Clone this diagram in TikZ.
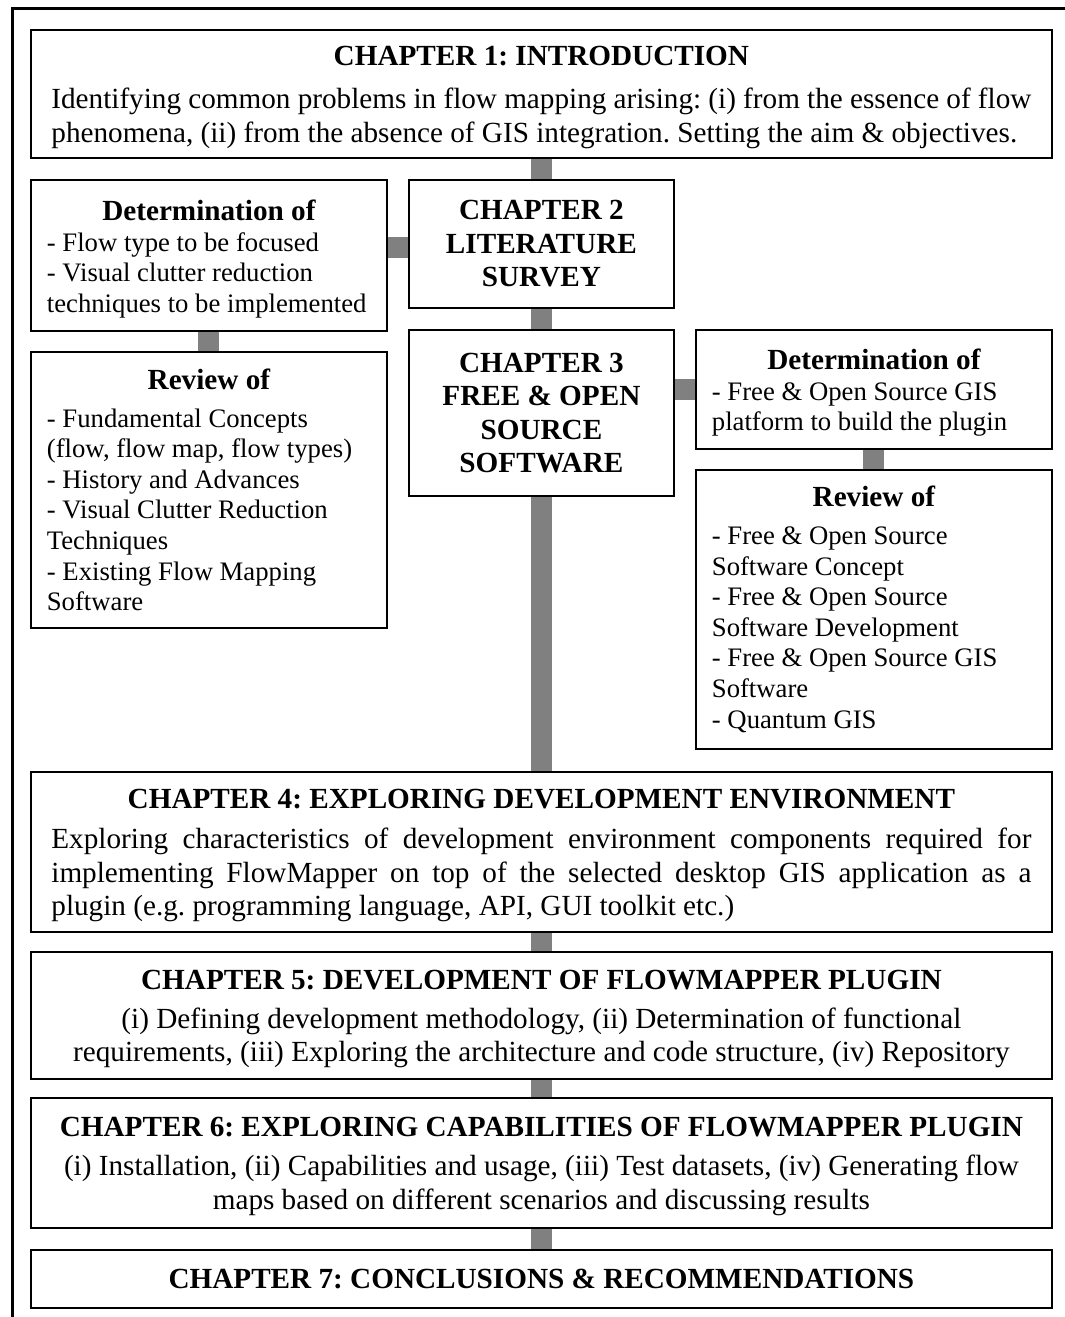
\documentclass[tikz,border=0pt]{standalone}
\usepackage{fontspec}
\setmainfont{Liberation Serif}
\usetikzlibrary{positioning,calc}
\definecolor{bargray}{RGB}{128,128,128}
\newcommand{\chapfont}{\fontsize{29.2}{33.4}\selectfont}
\newcommand{\listfont}{\fontsize{26.7}{30.6}\selectfont}
\newcommand{\sinktext}{\par\vspace{-7pt}\hrule height 0pt}
\frenchspacing
\hyphenpenalty=10000
\exhyphenpenalty=10000

\begin{document}
\begin{tikzpicture}[x=1pt,y=-1pt,
  box/.style={draw, line width=1.8pt, fill=white, inner sep=0pt, anchor=north west, font=\chapfont},
  wide/.style={box, minimum width=1021pt, text width=980pt},
  side/.style={box, minimum width=356pt, text width=324pt, align=flush left},
  mid/.style={box, minimum width=265pt, text width=240pt, align=flush center, font=\chapfont\bfseries},
  link/.style={draw=bargray, line width=21pt}]

\useasboundingbox (0,0) rectangle (1065,1317);

% outer frame
\draw[line width=3.3pt] (12.5,1317) -- (12.5,8.5) -- (1065,8.5);

\node[wide, minimum height=128pt, align=justify] (ch1) at (30,29)
  {{\centering\bfseries CHAPTER 1: INTRODUCTION\par}\vspace{10pt}%
   Identifying common problems in flow mapping arising: (i) from the essence of flow phenomena, (ii) from the absence of GIS integration. Setting the aim \& objectives.\sinktext};

\node[side, minimum height=151pt] (det1) at (30,179)
  {{\centering\bfseries Determination of\par}\listfont
   - Flow type to be focused\\ - Visual clutter reduction\\ techniques to be implemented\sinktext};
\node[mid, minimum height=128pt] (ch2) at (408,179) {CHAPTER 2\\ LITERATURE\\ SURVEY};

\node[side, minimum height=276pt] (rev1) at (30,351)
  {{\centering\bfseries Review of\par}\vspace{7pt}\listfont
   - Fundamental Concepts\\ (flow, flow map, flow types)\\ - History and Advances\\
   - Visual Clutter Reduction\\ Techniques\\ - Existing Flow Mapping\\ Software\par};
\node[mid, minimum height=166pt] (ch3) at (408,329) {CHAPTER 3\\ FREE \& OPEN\\ SOURCE\\ SOFTWARE};

\node[side, minimum height=119pt] (det2) at (695,329)
  {{\centering\bfseries Determination of\par}\listfont
   - Free \& Open Source GIS\\ platform to build the plugin\sinktext};
\node[side, minimum height=279pt] (rev2) at (695,469)
  {{\centering\bfseries Review of\par}\vspace{7pt}\listfont
   - Free \& Open Source\\ Software Concept\\ - Free \& Open Source\\ Software Development\\
   - Free \& Open Source GIS\\ Software\\ - Quantum GIS\par};

\node[wide, minimum height=160pt, align=justify] (ch4) at (30,771)
  {{\centering\bfseries CHAPTER 4: EXPLORING DEVELOPMENT ENVIRONMENT\par}\vspace{7pt}%
   Exploring characteristics of development environment components required for\linebreak
   implementing FlowMapper on top of the selected desktop GIS application as a\linebreak
   plugin (e.g. programming language, API, GUI toolkit etc.)\sinktext};
\node[wide, minimum height=127pt, align=flush center] (ch5) at (30,951)
  {{\bfseries CHAPTER 5: DEVELOPMENT OF FLOWMAPPER PLUGIN}\\[6pt]
   (i) Defining development methodology, (ii) Determination of functional\\
   requirements, (iii) Exploring the architecture and code structure, (iv) Repository\sinktext};
\node[wide, minimum height=130pt, align=flush center] (ch6) at (30,1097)
  {{\bfseries CHAPTER 6: EXPLORING CAPABILITIES OF FLOWMAPPER PLUGIN}\\[6pt]
   (i) Installation, (ii) Capabilities and usage, (iii) Test datasets, (iv) Generating flow\\
   maps based on different scenarios and discussing results\sinktext};
\node[wide, minimum height=58pt, align=flush center, font=\chapfont\bfseries] (ch7) at (30,1249)
  {CHAPTER 7: CONCLUSIONS \& RECOMMENDATIONS};

% grey links
\draw[link] (ch1) -- (ch2);
\draw[link] ($(det1.east |- ch2.west)+(0,3.5)$) -- ($(ch2.west)+(0,3.5)$);
\draw[link] (det1) -- (rev1);
\draw[link] (ch2) -- (ch3);
\draw[link] (ch3.east |- det2.west) -- (det2.west);
\draw[link] (det2) -- (rev2);
\draw[link] (ch3) -- (ch4);
\draw[link] (ch4) -- (ch5);
\draw[link] (ch5) -- (ch6);
\draw[link] (ch6) -- (ch7);

\end{tikzpicture}
\end{document}
